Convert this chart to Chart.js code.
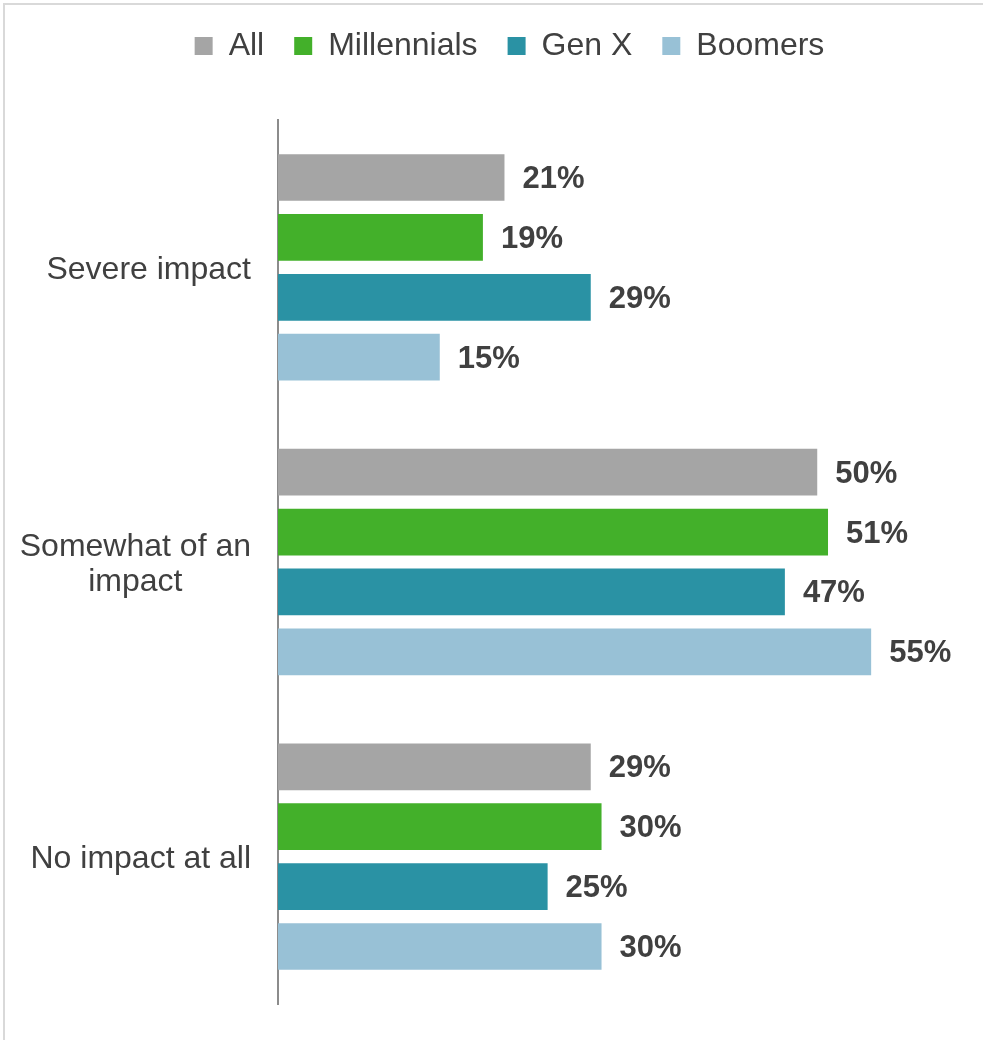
<!DOCTYPE html>
<html>
<head>
<meta charset="utf-8">
<script src="https://cdn.jsdelivr.net/npm/chart.js@4/dist/chart.umd.min.js"></script>
<style>
  html, body { margin: 0; padding: 0; background: #fff; overflow: hidden; }
  #frame { position: absolute; left: 3px; top: 3px; width: 1000px; height: 1060px; border: 2px solid #d9d9d9; }
  #chart { position: absolute; left: 0; top: 0; }
</style>
</head>
<body>
<div id="frame"></div>
<canvas id="chart" width="983" height="1040"></canvas>
<script>
// ---------- data ----------
const categories = ["Severe impact", ["Somewhat of an", "impact"], "No impact at all"];
const seriesNames = ["All", "Millennials", "Gen X", "Boomers"];
const allValues = [21, 50, 29];
const millennialsValues = [19, 51, 30];
const genXValues = [29, 47, 25];
const boomersValues = [15, 55, 30];
const seriesColors = ["#A5A5A5", "#43B02A", "#2A92A4", "#98C1D6"];

const FONT = "'Liberation Sans', Arial, sans-serif";
const TEXT_COLOR = "#404040";

// legend block height (legend + gap above the plot)
const legendHeight = {
    id: "legendHeight",
    beforeInit(chart) {
        const fit = chart.legend.fit;
        chart.legend.fit = function () {
            fit.call(this);
            this.height = 120;
        };
    }
};

// category labels: right side of the axis column, lines centred on each other
const categoryLabels = {
    id: "categoryLabels",
    afterDraw(chart) {
        const ctx = chart.ctx;
        const yScale = chart.scales.y;
        const lineH = 35;
        ctx.save();
        ctx.font = `32px ${FONT}`;
        ctx.fillStyle = TEXT_COLOR;
        ctx.textAlign = "center";
        ctx.textBaseline = "middle";
        categories.forEach((label, i) => {
            const lines = Array.isArray(label) ? label : [label];
            const widest = Math.max(...lines.map(l => ctx.measureText(l).width));
            const cx = yScale.right - 27 - widest / 2;
            const cy = yScale.getPixelForTick(i);
            const startY = cy - (lines.length - 1) * lineH / 2;
            lines.forEach((line, j) => ctx.fillText(line, cx, startY + j * lineH + 3));
        });
        ctx.restore();
    }
};

// value labels at the end of each bar
const valueLabels = {
    id: "valueLabels",
    afterDatasetsDraw(chart) {
        const ctx = chart.ctx;
        ctx.save();
        ctx.font = `bold 31px ${FONT}`;
        ctx.fillStyle = TEXT_COLOR;
        ctx.textAlign = "left";
        ctx.textBaseline = "middle";
        chart.data.datasets.forEach((ds, di) => {
            const meta = chart.getDatasetMeta(di);
            meta.data.forEach((bar, i) => {
                ctx.fillText(`${ds.data[i]}%`, bar.x + 18, bar.y + 2);
            });
        });
        ctx.restore();
    }
};

const seriesData = [allValues, millennialsValues, genXValues, boomersValues];

new Chart(document.getElementById("chart"), {
    type: "bar",
    data: {
        labels: categories,
        datasets: seriesNames.map((name, i) => ({
            label: name,
            data: seriesData[i],
            backgroundColor: seriesColors[i],
            borderWidth: 0,
            categoryPercentage: 0.813,
            barPercentage: 0.78
        }))
    },
    options: {
        indexAxis: "y",
        responsive: false,
        animation: false,
        layout: { padding: { left: 40, right: 4, top: 0, bottom: 36 } },
        scales: {
            x: { display: false, min: 0, max: 65 },
            y: {
                ticks: { display: false },
                grid: { display: false },
                border: { display: true, color: "#8C8C8C", width: 2 },
                afterFit: (scale) => { scale.width = 238; }
            }
        },
        plugins: {
            legend: {
                position: "top",
                labels: {
                    boxWidth: 18,
                    boxHeight: 18,
                    padding: 30,
                    color: TEXT_COLOR,
                    font: { family: FONT, size: 32 }
                }
            },
            tooltip: { enabled: false }
        }
    },
    plugins: [legendHeight, categoryLabels, valueLabels]
});
</script>
</body>
</html>
